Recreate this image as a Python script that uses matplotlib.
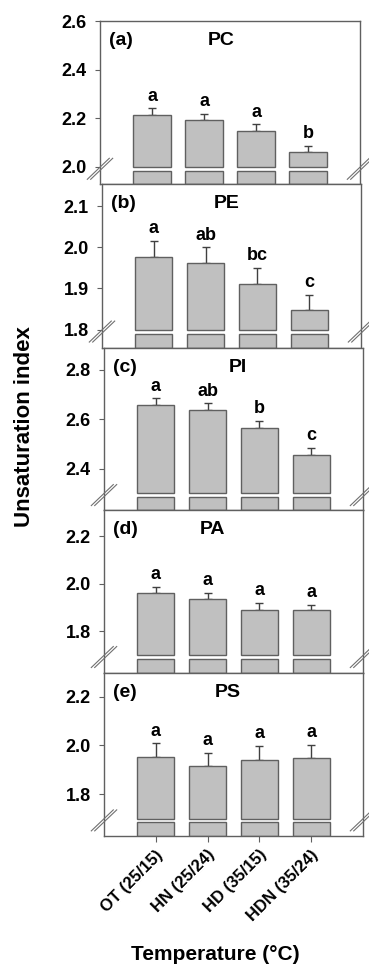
import matplotlib
matplotlib.use("Agg")
import matplotlib.pyplot as plt
import matplotlib.transforms as mtransforms
import numpy as np

plt.rcParams['font.family'] = ['Liberation Sans', 'DejaVu Sans']
plt.rcParams['font.weight'] = 'bold'

treatments = ["OT (25/15)", "HN (25/24)", "HD (35/15)", "HDN (35/24)"]
lipids = ["PC", "PE", "PI", "PA", "PS"]
tags = ["(a)", "(b)", "(c)", "(d)", "(e)"]

# mean unsaturation index, standard error and significance letters
pc_mean = [2.215, 2.194, 2.148, 2.060]
pc_se = [0.026, 0.025, 0.028, 0.026]
pc_sig = ["a", "a", "a", "b"]

pe_mean = [1.977, 1.962, 1.910, 1.847]
pe_se = [0.039, 0.038, 0.040, 0.038]
pe_sig = ["a", "ab", "bc", "c"]

pi_mean = [2.658, 2.639, 2.565, 2.454]
pi_se = [0.027, 0.026, 0.029, 0.030]
pi_sig = ["a", "ab", "b", "c"]

pa_mean = [1.962, 1.936, 1.891, 1.888]
pa_se = [0.025, 0.025, 0.028, 0.024]
pa_sig = ["a", "a", "a", "a"]

ps_mean = [1.954, 1.917, 1.942, 1.948]
ps_se = [0.055, 0.054, 0.057, 0.055]
ps_sig = ["a", "a", "a", "a"]

means = [pc_mean, pe_mean, pi_mean, pa_mean, ps_mean]
errs = [pc_se, pe_se, pi_se, pa_se, ps_se]
sigs = [pc_sig, pe_sig, pi_sig, pa_sig, ps_sig]

# axis ranges, broken-axis gap (lower stub top, upper bar start) and ticks
ylims = [(1.93, 2.6), (1.755, 2.154), (2.233, 2.889), (1.626, 2.309), (1.629, 2.297)]
gaps = [(1.985, 2.0), (1.790, 1.8), (2.287, 2.30), (1.686, 1.70), (1.686, 1.70)]
yticks = [[2.0, 2.2, 2.4, 2.6], [1.8, 1.9, 2.0, 2.1], [2.4, 2.6, 2.8],
          [1.8, 2.0, 2.2], [1.8, 2.0, 2.2]]

# panel frames in pixels: left, right, top, bottom
W, H = 369, 967
frames = [(100, 360, 21, 184), (102, 361, 184, 348), (104, 363, 348, 510),
          (104, 363, 510, 673), (104, 363, 673, 836)]
title_x = [0.467, 0.48, 0.515, 0.42, 0.477]

fig = plt.figure(figsize=(W / 100, H / 100), dpi=100)
grey = '#606060'
fill = '#c0c0c0'
x = np.arange(len(treatments))

for i in range(5):
    l, r, t, b = frames[i]
    ax = fig.add_axes([l / W, 1 - b / H, (r - l) / W, (b - t) / H])
    lo, hi = ylims[i]
    g_lo, g_hi = gaps[i]
    m = np.array(means[i])
    se = np.array(errs[i])

    # upper part of each bar and the short stub below the break
    ax.bar(x, m - g_hi, bottom=g_hi, width=0.72, color=fill, edgecolor=grey, linewidth=1, zorder=2)
    ax.bar(x, g_lo - lo, bottom=lo, width=0.72, color=fill, edgecolor=grey, linewidth=1, zorder=2)
    ax.errorbar(x, m, yerr=[np.zeros_like(se), se], fmt='none', ecolor='#404040',
                elinewidth=1, capsize=2.6, capthick=1, zorder=1)
    for xi, mi, si, lab in zip(x, m, se, sigs[i]):
        ax.annotate(lab, (xi, mi + si), xytext=(0, 5.5), textcoords='offset points',
                    ha='center', va='baseline', fontsize=13, fontweight='bold')

    ax.set_xlim(-1.0, 4.0)
    ax.set_ylim(lo, hi)
    ax.set_yticks(yticks[i])
    ax.set_yticklabels(["%.1f" % v for v in yticks[i]], fontsize=13, fontweight='bold')
    ax.tick_params(axis='y', direction='out', length=3.5, width=0.8, color=grey, pad=6)
    for sp in ax.spines.values():
        sp.set_color(grey)
        sp.set_linewidth(1)

    if i < 4:
        ax.set_xticks([])
    else:
        ax.set_xticks(x)
        ax.set_xticklabels(treatments, rotation=45, ha='right', va='top',
                           fontsize=12, fontweight='bold')
        ax.tick_params(axis='x', direction='out', length=4, width=0.8, color=grey, pad=4)
        off = mtransforms.ScaledTranslation(10 / 100, 0, fig.dpi_scale_trans)
        for tl in ax.get_xticklabels():
            tl.set_transform(tl.get_transform() + off)

    ax.text(0.035, 0.88, tags[i], transform=ax.transAxes, ha='left', va='center',
            fontsize=14, fontweight='bold')
    ax.text(title_x[i], 0.88, lipids[i], transform=ax.transAxes, ha='center', va='center',
            fontsize=14, fontweight='bold')

    # double slash break marks on both sides of the frame
    ya = ((g_lo + g_hi) / 2 - lo) / (hi - lo)
    for xa in (0, 1):
        tr = fig.dpi_scale_trans + mtransforms.ScaledTranslation(xa, ya, ax.transAxes)
        for s in (-0.017, 0.017):
            ax.plot([-0.11 + s, 0.11 + s], [-0.105, 0.105], color='#707070', lw=0.8,
                    transform=tr, clip_on=False, zorder=5)

fig.text(24 / W, 1 - 427 / H, "Unsaturation index", rotation=90, ha='center', va='center',
         fontsize=16, fontweight='bold')
fig.text(215 / W, 1 - 954 / H, "Temperature (°C)", ha='center', va='center',
         fontsize=15, fontweight='bold')

fig.savefig("out.png", dpi=100)
